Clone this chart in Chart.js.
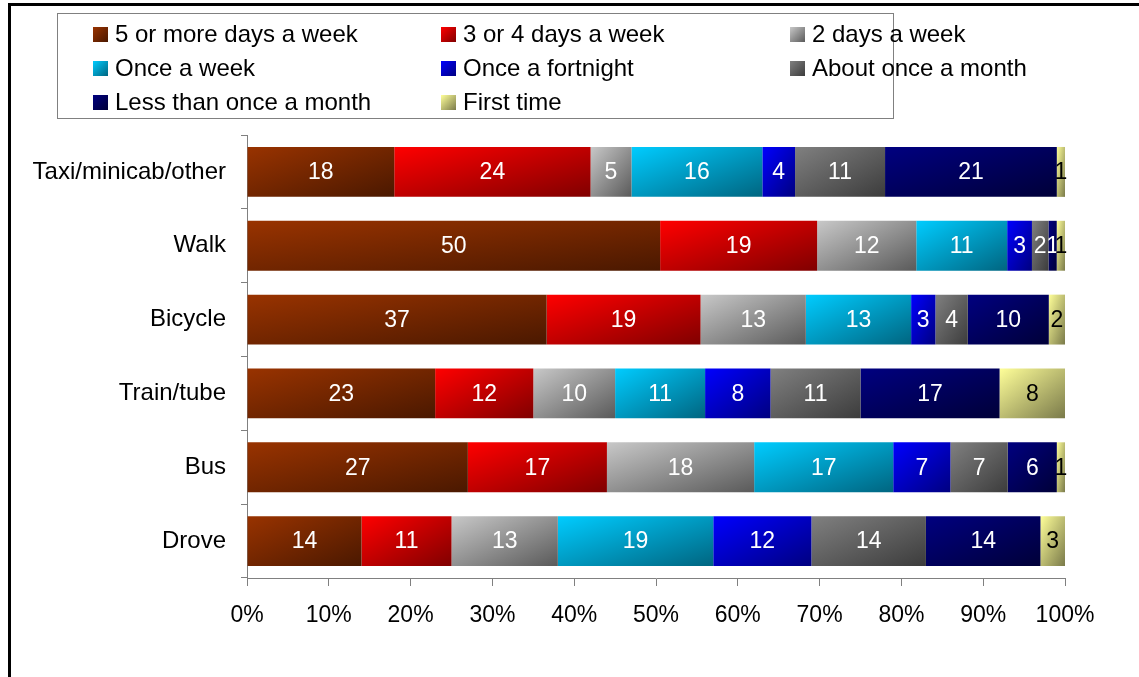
<!DOCTYPE html>
<html>
<head>
<meta charset="utf-8">
<script src="https://cdn.jsdelivr.net/npm/chart.js@4"></script>
<style>
  html, body { margin: 0; overflow: hidden; }
  body { width: 1139px; height: 677px; background: #fff; position: relative; font-family: "Liberation Sans", Arial, sans-serif; }
  #frame { position: absolute; left: 8px; top: 3px; width: 1300px; height: 800px; border-left: 3px solid #000; border-top: 3px solid #000; }
  #legend { position: absolute; left: 57px; top: 13px; width: 835px; height: 104px; border: 1px solid #808080; background: #fff; }
  .item { position: absolute; height: 34px; line-height: 34px; font-size: 24px; color: #000; white-space: nowrap; }
  .item span { position: absolute; left: 0; top: 10px; width: 15px; height: 15px; }
  .item b { font-weight: normal; position: absolute; left: 22px; top: 0; }
  #wrap { position: absolute; left: 0; top: 0; width: 1139px; height: 677px; }
</style>
</head>
<body>
<div id="frame"></div>
<div id="wrap"><canvas id="barChart" width="1139" height="677"></canvas></div>
<div id="legend"></div>
<script>
const categories = ['Taxi/minicab/other', 'Walk', 'Bicycle', 'Train/tube', 'Bus', 'Drove']
const seriesNames = ['5 or more days a week', '3 or 4 days a week', '2 days a week',
  'Once a week', 'Once a fortnight', 'About once a month', 'Less than once a month', 'First time']

// values per series, in category order
const fivePlus    = [18, 50, 37, 23, 27, 14]
const threeFour   = [24, 19, 19, 12, 17, 11]
const twoDays     = [5, 12, 13, 10, 18, 13]
const onceWeek    = [16, 11, 13, 11, 17, 19]
const fortnight   = [4, 3, 3, 8, 7, 12]
const monthly     = [11, 2, 4, 11, 7, 14]
const lessMonthly = [21, 1, 10, 17, 6, 14]
const firstTime   = [1, 1, 2, 8, 1, 3]

const xTicks = [0, 10, 20, 30, 40, 50, 60, 70, 80, 90, 100]

const lightColors = ['#993300', '#ff0000', '#c8c8c8', '#00ccff', '#0000ff', '#808080', '#000080', '#ffff99']
const darkColors  = ['#4a1800', '#800000', '#5a5a5a', '#006580', '#000080', '#3c3c3c', '#000038', '#7a7a4a']
const labelColors = ['#fff', '#fff', '#fff', '#fff', '#fff', '#fff', '#fff', '#000']

const allSeries = [fivePlus, threeFour, twoDays, onceWeek, fortnight, monthly, lessMonthly, firstTime]
const rowTotals = categories.map((c, j) => allSeries.reduce((s, arr) => s + arr[j], 0))
const shares = allSeries.map(arr => arr.map((v, j) => v / rowTotals[j] * 100))

const BAR_PCT = 0.676
const FONT = '"Liberation Sans", Arial, sans-serif'

function segmentFill(ctx) {
  const i = ctx.datasetIndex
  const chart = ctx.chart
  const xs = chart.scales.x
  const ys = chart.scales.y
  if (ctx.type !== 'data' || !xs || !ys) return lightColors[i]
  const j = ctx.dataIndex
  let start = 0
  for (let k = 0; k < i; k++) start += shares[k][j]
  const x0 = xs.getPixelForValue(start)
  const x1 = xs.getPixelForValue(start + shares[i][j])
  const h = ys.height / categories.length * BAR_PCT
  const y0 = ys.getPixelForValue(j) - h / 2
  const w = x1 - x0
  if (!(w > 0) || !(h > 0)) return lightColors[i]
  // diagonal gradient in box-normalised space (top-left light -> bottom-right dark)
  const k = 2 * w * h / (w * w + h * h)
  const g = chart.ctx.createLinearGradient(x0, y0, x0 + k * h, y0 + k * w)
  g.addColorStop(0, lightColors[i])
  g.addColorStop(1, darkColors[i])
  return g
}

const valueLabels = {
  id: 'valueLabels',
  afterDatasetsDraw(chart) {
    const c = chart.ctx
    c.save()
    c.font = '23px ' + FONT
    c.textAlign = 'center'
    c.textBaseline = 'middle'
    chart.data.datasets.forEach((ds, i) => {
      const meta = chart.getDatasetMeta(i)
      meta.data.forEach((el, j) => {
        c.fillStyle = labelColors[i]
        c.fillText(String(allSeries[i][j]), (el.x + el.base) / 2, el.y + 1)
      })
    })
    c.restore()
  }
}

function buildLegend() {
  const box = document.getElementById('legend')
  const colX = [35, 383, 732]
  seriesNames.forEach((name, i) => {
    const item = document.createElement('div')
    item.className = 'item'
    item.style.left = colX[i % 3] + 'px'
    item.style.top = (3 + Math.floor(i / 3) * 34) + 'px'
    const sw = document.createElement('span')
    sw.style.background = `linear-gradient(135deg, ${lightColors[i]}, ${darkColors[i]})`
    const txt = document.createElement('b')
    txt.textContent = name
    item.appendChild(sw)
    item.appendChild(txt)
    box.appendChild(item)
  })
}

function buildChart() {
  const datasets = seriesNames.map((name, i) => ({
    label: name,
    data: shares[i],
    backgroundColor: segmentFill,
    borderWidth: 0,
    categoryPercentage: 1,
    barPercentage: BAR_PCT
  }))

  new Chart(document.getElementById('barChart'), {
    type: 'bar',
    data: { labels: categories, datasets },
    options: {
      indexAxis: 'y',
      responsive: false,
      animation: false,
      layout: { padding: { top: 135, right: 74, bottom: 0, left: 0 } },
      plugins: { legend: { display: false }, tooltip: { enabled: false } },
      scales: {
        x: {
          stacked: true,
          min: 0,
          max: 100,
          afterFit: (s) => { s.height = 99 },
          afterBuildTicks: (s) => { s.ticks = xTicks.map(v => ({ value: v })) },
          grid: { drawOnChartArea: false, drawTicks: true, tickLength: 8, color: '#808080' },
          border: { display: true, color: '#808080', width: 1 },
          ticks: {
            padding: 16,
            color: '#000',
            font: { family: FONT, size: 23 },
            callback: (v) => v + '%',
            maxRotation: 0
          }
        },
        y: {
          stacked: true,
          afterFit: (s) => { s.width = 247 },
          grid: { drawOnChartArea: false, drawTicks: true, tickLength: 6, color: '#808080', offset: true },
          border: { display: true, color: '#808080', width: 1 },
          ticks: { padding: 15, color: '#000', font: { family: FONT, size: 24 } }
        }
      }
    },
    plugins: [valueLabels]
  })
}

window.addEventListener('load', () => {
  try {
    buildLegend()
    buildChart()
  } catch (e) {
    console.error(e)
  }
})
</script>
</body>
</html>
